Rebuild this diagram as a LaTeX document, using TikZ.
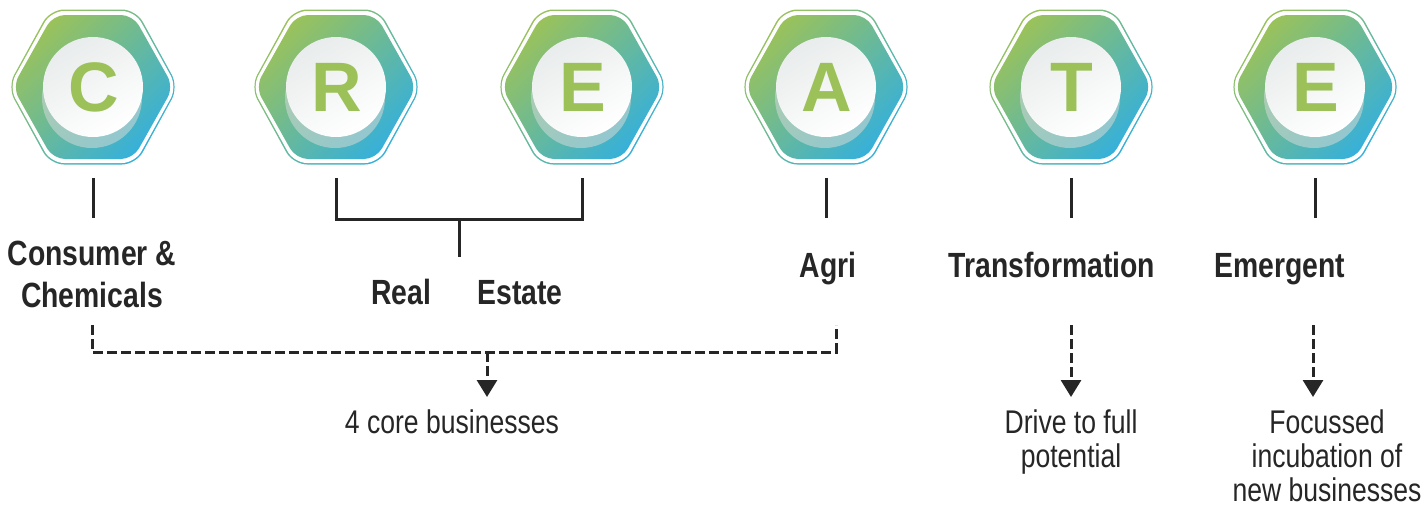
\documentclass[tikz,border=0pt]{standalone}
\usepackage{fontspec}
\setmainfont{Liberation Sans}
\newfontfamily\labfont[FakeStretch=0.81]{Liberation Sans}
\usepackage{tikz}
\usetikzlibrary{positioning,arrows.meta,calc}

\definecolor{hexgreen}{HTML}{9AC25B}
\definecolor{hexblue}{HTML}{36B0DA}
\definecolor{lettergreen}{HTML}{9BC158}
\definecolor{facegray}{HTML}{E9ECEC}
\definecolor{shadowgray}{HTML}{C9D6D4}

\tikzset{
  hexlabel/.style={font=\labfont\bfseries\fontsize{17.5}{21}\selectfont, align=center, anchor=base, inner sep=0pt, text=black!85},
  notetext/.style={font=\labfont\fontsize{16.4}{17}\selectfont, align=center, anchor=base, inner sep=0pt, text=black!85},
  stem/.style={line width=1.5pt, black!85},
  dashline/.style={line width=1.5pt, black!85, dash pattern=on 5pt off 2pt},
  drop/.style={dashline, -{Triangle[width=10pt,length=8.5pt]}},
}

\begin{document}
\begin{tikzpicture}[x=0.5pt, y=0.5pt]

\useasboundingbox (0,0) rectangle (1422,-509);

% hexagons with letters
\foreach \x/\ltr/\name in {93/C/hc, 336/R/hr, 582/E/he, 826/A/ha, 1071/T/ht, 1315/E/hf} {
\begin{scope}[shift={(\x,-87)}]
\shade[top color=hexgreen, bottom color=hexblue, shading angle=45, rounded corners=7pt]
  (0,77.5) -- (43,77.5) -- (85.5,0) -- (43,-77.5) -- (-43,-77.5) -- (-85.5,0) -- (-43,77.5) -- cycle;
\fill[white, rounded corners=6.5pt]
  (0,76) -- (42,76) -- (84,0) -- (42,-76) -- (-42,-76) -- (-84,0) -- (-42,76) -- cycle;
\shade[top color=hexgreen, bottom color=hexblue, shading angle=45, rounded corners=6pt]
  (0,72) -- (40,72) -- (80.5,0) -- (40,-72) -- (-40,-72) -- (-80.5,0) -- (-40,72) -- cycle;
\fill[shadowgray, opacity=0.6] (-1,-11) circle (50);
\shade[top color=facegray, bottom color=white, shading angle=30] (0,0) circle (50);
\node[font=\bfseries\fontsize{35}{35}\selectfont, text=lettergreen] (\name-l) at (1,0) {\ltr};
\end{scope}
\node[minimum width=85.5pt, minimum height=77.5pt, inner sep=0pt] (\name) at (\x,-87) {};
}

% solid stems
\draw[stem] ([yshift=-6.5pt]hc.south) -- ++(0,-40);
\draw[stem] ([yshift=-6.5pt]ha.south) -- ++(0,-40);
\draw[stem] ([yshift=-6.5pt]ht.south) -- ++(0,-40);
\draw[stem] ([yshift=-6.5pt]hf.south) -- ++(0,-40);
\draw[stem] ([yshift=-6.5pt]hr.south) -- ++(0,-42) coordinate (rbar)
  -| ([yshift=-6.5pt]he.south);
\draw[stem] ($(rbar)!0.5!(rbar -| he.south)$) -- ++(0,-37);

% labels
\node[hexlabel] (lc) at (92,-307) {Consumer \&\\Chemicals};
\node[hexlabel] (lreal) at (401,-304) {Real};
\node[hexlabel] (lestate) at (520,-304) {Estate};
\node[hexlabel] (la) at (828,-277) {Agri};
\node[hexlabel] (lt) at (1052,-277) {Transformation};
\node[hexlabel] (le) at (1280,-277) {Emergent};

% dashed connectors
\coordinate (dl) at (92,-325);
\coordinate (dr) at (836,-325);
\draw[dashline] (dl) -- ++(0,-27) -- ++(744,0) -- (dr);
\coordinate (dj) at (487,-352);
\draw[drop] (dj) -- ++(0,-45);
\coordinate (dt) at (1071,-325);
\draw[drop] (dt) -- ++(0,-72);
\coordinate (de) at (1313,-325);
\draw[drop] (de) -- ++(0,-72);

% notes
\node[notetext] (core) at (452,-433) {4 core businesses};
\node[notetext] (drive) at (1071,-467) {Drive to full\\potential};
\node[notetext] (focus) at (1327,-501) {Focussed\\incubation of\\new businesses};

\end{tikzpicture}
\end{document}
